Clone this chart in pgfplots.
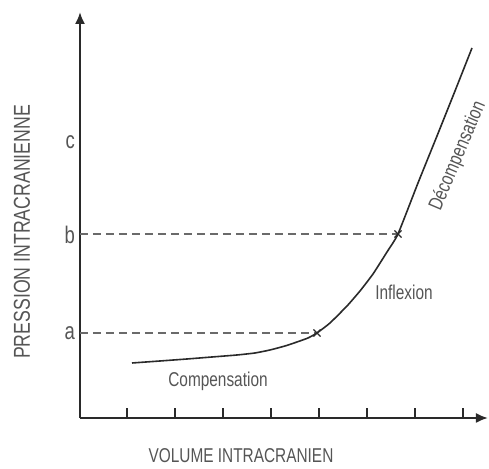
\documentclass[border=0pt]{standalone}
\usepackage{fontspec}
\setmainfont{Liberation Sans}[FakeStretch=0.77]
\newfontfamily\plainfont{Liberation Sans}
\usepackage{graphicx}
\usepackage{pgfplots}
\pgfplotsset{compat=1.18}
\usetikzlibrary{arrows.meta}
\definecolor{ink}{HTML}{2A2A2A}
\definecolor{txt}{HTML}{555555}
\begin{document}
\begin{tikzpicture}
\begin{axis}[
  x=0.5pt, y=0.5pt,
  xmin=80, xmax=488, ymin=51, ymax=457,
  axis lines=left,
  axis line style={ink, line width=1pt, -{Latex[length=6pt,width=5pt]}},
  clip=false,
  xtick={127,175,223,271,319,367,415,463},
  xticklabels={},
  tick align=inside,
  major tick length=5pt,
  xtick style={ink, line width=0.6pt},
  ytick={136,234,327},
  yticklabels={{\mbox{a}},{\mbox{b}},{\mbox{c}}},
  ytick style={draw=none},
  yticklabel style={txt, font=\fontsize{12}{14}\selectfont, xshift=1pt},
  xlabel={VOLUME INTRACRANIEN},
  xlabel style={at={(axis cs:241,13)}, anchor=center, txt, font=\fontsize{10}{12}\selectfont},
  ylabel={PRESSION INTRACRANIENNE},
  ylabel style={at={(axis cs:22,237)}, anchor=center, rotate=0, txt, font=\fontsize{11.5}{13}\selectfont},
]
% guides a and b
\addplot[ink!70, line width=0.6pt, dash pattern=on 4pt off 2.5pt] coordinates {(80,136) (317,136)};
\addplot[ink!70, line width=0.6pt, dash pattern=on 4pt off 2.5pt] coordinates {(80,235) (398,235)};

% pressure-volume curve
\addplot[ink, line width=0.8pt, smooth, tension=0.3] coordinates {
(132,106) (160,108) (187,110) (212,112) (237,114) (255,116) (270,119)
(285,123) (297,127) (308,131) (317,136)
(330,146) (347,163) (360,178) (373,195) (387,217) (398,235)
(418,286) (437,333) (455,378) (472,421)
};
\addplot[ink, only marks, mark=x, mark size=2.5pt, line width=0.6pt] coordinates {(317,136) (398,235)};

\node[txt, font=\fontsize{10}{12}\selectfont] at (axis cs:218,88) {Compensation};
\node[txt, font=\fontsize{10}{12}\selectfont] at (axis cs:404,177) {Inflexion};
\node[txt, rotate=67, inner sep=1pt] at (axis cs:458,313) {\plainfont\fontsize{10}{12}\selectfont\scalebox{0.77}[1]{Décompensation}};

\coordinate (bl) at (axis cs:0,0);
\coordinate (tr) at (axis cs:489,469);
\end{axis}
\pgfresetboundingbox
\path[use as bounding box] (bl) rectangle (tr);
\end{tikzpicture}
\end{document}
